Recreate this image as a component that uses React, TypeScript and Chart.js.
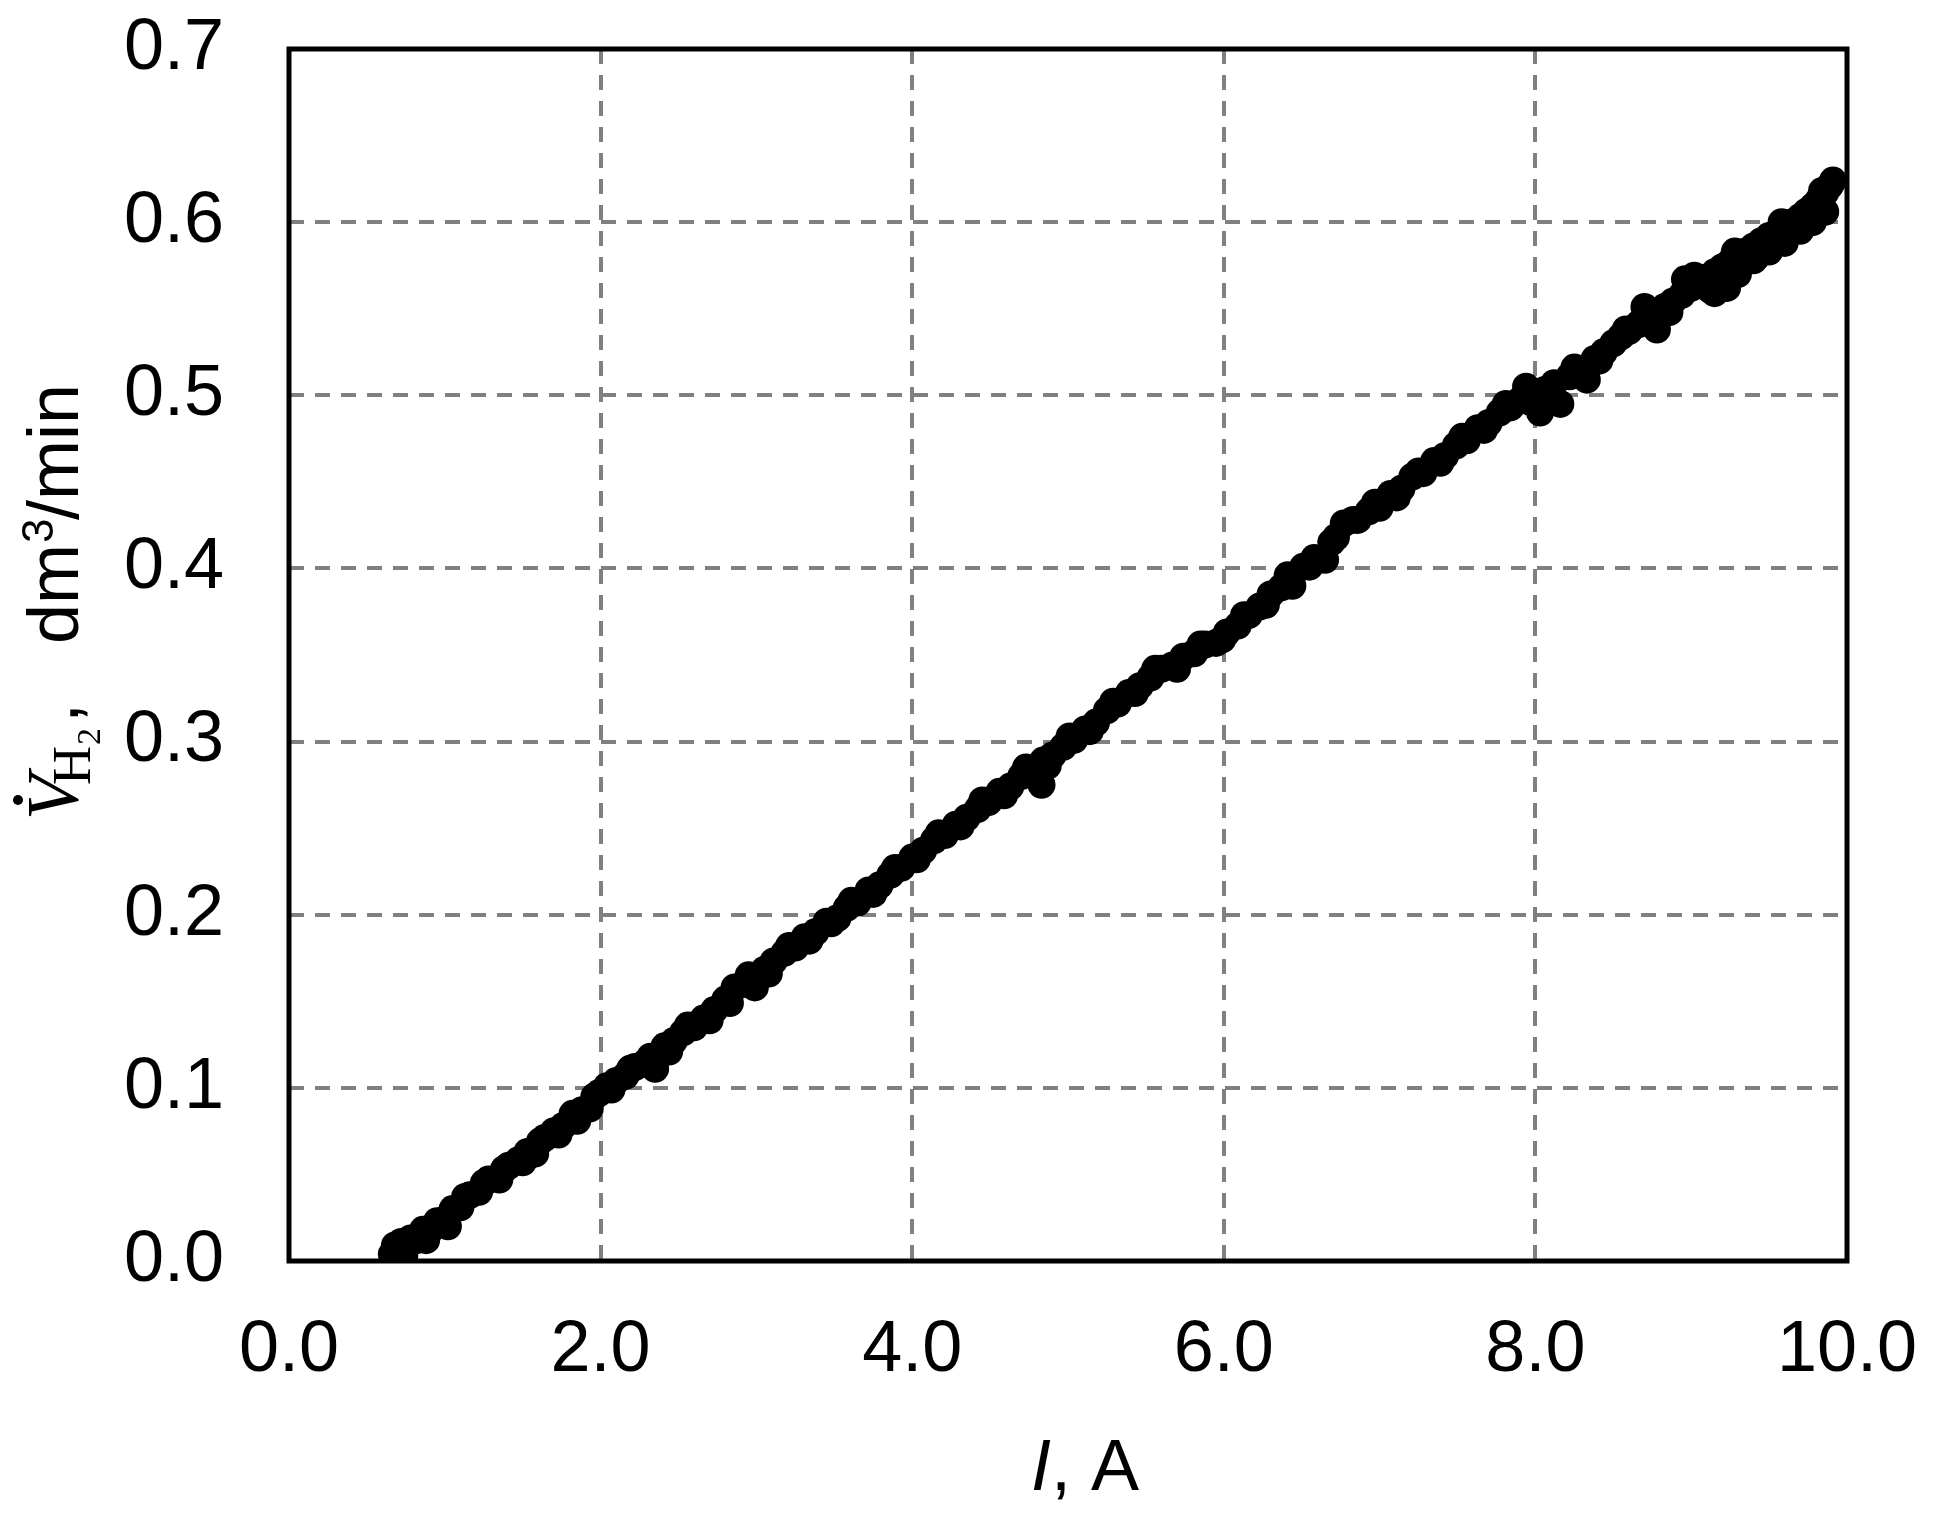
import { useEffect, useRef } from "react";
import { Chart, registerables, type Plugin } from "chart.js";

Chart.register(...registerables);

// measured current, A
const currentA = [
  0.66, 0.68, 0.7, 0.72, 0.75, 0.78, 0.82, 0.86, 0.9, 0.95,
  1.0, 1.05, 1.1, 1.16, 1.22, 1.28, 1.35, 1.41, 1.47, 1.53,
  1.58, 1.64, 1.7, 1.76, 1.82, 1.88, 1.93, 1.99, 2.04, 2.1,
  2.16, 2.22, 2.28, 2.35, 2.41, 2.47, 2.53, 2.6, 2.66, 2.73,
  2.8, 2.86, 2.92, 2.99, 3.05, 3.11, 3.18, 3.25, 3.31, 3.38,
  3.45, 3.52, 3.58, 3.65, 3.72, 3.79, 3.86, 3.93, 4.0, 4.07,
  4.14, 4.21, 4.28, 4.35, 4.42, 4.49, 4.56, 4.63, 4.7, 4.77,
  4.84, 4.83, 4.9, 4.97, 5.04, 5.11, 5.18, 5.25, 5.32, 5.39,
  5.46, 5.53, 5.6, 5.67, 5.74, 5.81, 5.88, 5.95, 6.02, 6.09,
  6.16, 6.23, 6.3, 6.37, 6.44, 6.51, 6.58, 6.65, 6.72, 6.77,
  6.86, 6.93, 7.0, 7.07, 7.14, 7.21, 7.28, 7.35, 7.42, 7.49,
  7.56, 7.63, 7.7, 7.77, 7.84, 7.9, 7.94, 8.0, 8.03, 8.06,
  8.12, 8.16, 8.22, 8.28, 8.33, 8.38, 8.44, 8.5, 8.55, 8.6,
  8.66, 8.72, 8.78, 8.78, 8.83, 8.88, 8.94, 8.96, 9.0, 9.05,
  9.1, 9.15, 9.15, 9.2, 9.23, 9.25, 9.3, 9.3, 9.35, 9.4,
  9.4, 9.45, 9.5, 9.5, 9.55, 9.6, 9.6, 9.65, 9.7, 9.7,
  9.74, 9.78, 9.78, 9.82, 9.86, 9.86, 9.89, 9.91,
  // second pass of readings
  0.74, 0.88, 1.02, 1.13, 1.25, 1.38, 1.5, 1.61, 1.73, 1.85,
  1.96, 2.07, 2.19, 2.32, 2.44, 2.56, 2.7, 2.83, 2.95, 3.08,
  3.21, 3.34, 3.48, 3.61, 3.75, 3.89, 4.03, 4.17, 4.31, 4.45,
  4.59, 4.73, 4.87, 5.01, 5.14, 5.29, 5.43, 5.56, 5.7, 5.85,
  5.99, 6.13, 6.27, 6.41, 6.55, 6.69, 6.83, 6.97, 7.11, 7.25,
  7.39, 7.53, 7.67, 7.81, 7.97, 8.09, 8.25, 8.41, 8.58, 8.7,
  8.86, 9.02, 9.12, 9.28, 9.42, 9.58, 9.68, 9.84,
];

// hydrogen flow rate, dm3/min
const flowRate = [
  0.004, 0.009, 0.005, 0.011, 0.008, 0.013, 0.012, 0.018, 0.017, 0.023,
  0.024, 0.03, 0.031, 0.038, 0.04, 0.047, 0.047, 0.055, 0.058, 0.063,
  0.062, 0.071, 0.075, 0.078, 0.085, 0.087, 0.088, 0.097, 0.101, 0.104,
  0.107, 0.112, 0.114, 0.111, 0.124, 0.127, 0.132, 0.135, 0.14, 0.145,
  0.151, 0.158, 0.16, 0.158, 0.168, 0.173, 0.178, 0.181, 0.187, 0.19,
  0.196, 0.198, 0.204, 0.207, 0.214, 0.217, 0.223, 0.227, 0.233, 0.237,
  0.243, 0.246, 0.252, 0.256, 0.261, 0.265, 0.271, 0.274, 0.28, 0.284,
  0.289, 0.275, 0.292, 0.297, 0.301, 0.307, 0.311, 0.318, 0.322, 0.328,
  0.332, 0.337, 0.342, 0.344, 0.349, 0.351, 0.356, 0.357, 0.363, 0.367,
  0.373, 0.378, 0.385, 0.389, 0.39, 0.401, 0.406, 0.405, 0.418, 0.426,
  0.428, 0.433, 0.435, 0.443, 0.446, 0.453, 0.455, 0.462, 0.465, 0.471,
  0.474, 0.481, 0.484, 0.49, 0.493, 0.497, 0.505, 0.499, 0.49, 0.503,
  0.507, 0.495, 0.511, 0.514, 0.509, 0.521, 0.525, 0.53, 0.534, 0.537,
  0.541, 0.545, 0.538, 0.548, 0.551, 0.554, 0.558, 0.567, 0.562, 0.565,
  0.568, 0.571, 0.559, 0.574, 0.562, 0.577, 0.58, 0.57, 0.583, 0.586,
  0.578, 0.589, 0.592, 0.583, 0.594, 0.597, 0.588, 0.6, 0.603, 0.595,
  0.606, 0.609, 0.6, 0.613, 0.617, 0.606, 0.621, 0.624,
  // second pass of readings
  0.003, 0.012, 0.02, 0.037, 0.045, 0.053, 0.057, 0.069, 0.073, 0.081,
  0.095, 0.099, 0.111, 0.118, 0.121, 0.136, 0.139, 0.149, 0.165, 0.166,
  0.182, 0.185, 0.195, 0.208, 0.212, 0.227, 0.232, 0.247, 0.251, 0.266,
  0.269, 0.285, 0.286, 0.303, 0.306, 0.323, 0.328, 0.342, 0.342, 0.356,
  0.359, 0.373, 0.379, 0.396, 0.401, 0.415, 0.428, 0.438, 0.441, 0.456,
  0.461, 0.476, 0.48, 0.495, 0.496, 0.499, 0.516, 0.52, 0.538, 0.551,
  0.548, 0.569, 0.561, 0.583, 0.58, 0.6, 0.598, 0.618,
];

const xTicks = [0, 2, 4, 6, 8, 10];
const yTicks = [0, 0.1, 0.2, 0.3, 0.4, 0.5, 0.6, 0.7];

const SANS = "'Liberation Sans', Arial, sans-serif";
const SERIF = "'Liberation Serif', 'Times New Roman', serif";

// frame around the plot + axis titles with mixed fonts
const framePlugin: Plugin<"scatter"> = {
  id: "frameAndTitles",
  afterDraw(chart) {
    const { ctx, chartArea } = chart;
    ctx.save();
    ctx.strokeStyle = "#000";
    ctx.lineWidth = 5;
    ctx.strokeRect(chartArea.left, chartArea.top, chartArea.right - chartArea.left, chartArea.bottom - chartArea.top);

    ctx.fillStyle = "#000";
    ctx.textBaseline = "alphabetic";
    ctx.textAlign = "left";

    // x title: I, A
    ctx.font = `italic 72px ${SANS}`;
    const iw = ctx.measureText("I").width;
    ctx.font = `72px ${SANS}`;
    const rw = ctx.measureText(", A").width;
    const xStart = 1085 - (iw + rw) / 2;
    ctx.font = `italic 72px ${SANS}`;
    ctx.fillText("I", xStart, 1490);
    ctx.font = `72px ${SANS}`;
    ctx.fillText(", A", xStart + iw, 1490);

    // y title: V̇ H2, dm3/min (rotated)
    ctx.translate(78, 820);
    ctx.rotate(-Math.PI / 2);
    ctx.font = `italic 74px ${SERIF}`;
    ctx.fillText("V", 0, 0);
    ctx.beginPath();
    ctx.arc(20, -60, 5, 0, Math.PI * 2);
    ctx.fill();
    ctx.font = `54px ${SERIF}`;
    ctx.fillText("H", 35, 12);
    ctx.font = `34px ${SERIF}`;
    ctx.fillText("2", 75, 22);
    ctx.font = `72px ${SANS}`;
    ctx.fillText(",", 97, 0);
    ctx.fillText("dm", 176, 0);
    ctx.font = `44px ${SANS}`;
    ctx.fillText("3", 277, -25);
    ctx.font = `72px ${SANS}`;
    ctx.fillText("/min", 300, 0);
    ctx.restore();
  },
};

export default function App() {
  const canvasRef = useRef<HTMLCanvasElement | null>(null);

  useEffect(() => {
    if (!canvasRef.current) return;
    const points = currentA.map((x, i) => ({ x, y: flowRate[i] }));
    const chart = new Chart(canvasRef.current, {
      type: "scatter",
      data: {
        datasets: [
          {
            data: points,
            backgroundColor: "#000",
            borderColor: "#000",
            borderWidth: 0,
            pointRadius: 14,
            pointHoverRadius: 14,
          },
        ],
      },
      options: {
        animation: false,
        responsive: true,
        maintainAspectRatio: false,
        layout: { padding: { top: 49, right: 92, bottom: 0, left: 0 } },
        plugins: { legend: { display: false }, tooltip: { enabled: false } },
        scales: {
          x: {
            type: "linear",
            min: xTicks[0],
            max: xTicks[xTicks.length - 1],
            afterFit: (scale) => { scale.height = 252; },
            afterBuildTicks: (scale) => { scale.ticks = xTicks.map((value) => ({ value })); },
            ticks: {
              padding: 0,
              color: "#000",
              font: { family: SANS, size: 72 },
              callback: (v) => Number(v).toFixed(1),
            },
            // invisible tick marks keep the labels away from the axis
            grid: { color: "#808080", lineWidth: 4, drawTicks: true, tickLength: 47, tickColor: "rgba(0,0,0,0)" },
            border: { display: false, dash: [15, 11] },
          },
          y: {
            type: "linear",
            min: yTicks[0],
            max: yTicks[yTicks.length - 1],
            afterFit: (scale) => { scale.width = 289; },
            afterBuildTicks: (scale) => { scale.ticks = yTicks.map((value) => ({ value })); },
            ticks: {
              padding: 0,
              color: "#000",
              font: { family: SANS, size: 72 },
              callback: (v) => Number(v).toFixed(1),
            },
            grid: { color: "#808080", lineWidth: 4, drawTicks: true, tickLength: 65, tickColor: "rgba(0,0,0,0)" },
            border: { display: false, dash: [15, 11] },
          },
        },
      },
      plugins: [framePlugin],
    });
    return () => chart.destroy();
  }, []);

  return (
    <div style={{ position: "absolute", left: 0, top: 0, width: 1939, height: 1513, background: "#fff" }}>
      <canvas ref={canvasRef} />
    </div>
  );
}
